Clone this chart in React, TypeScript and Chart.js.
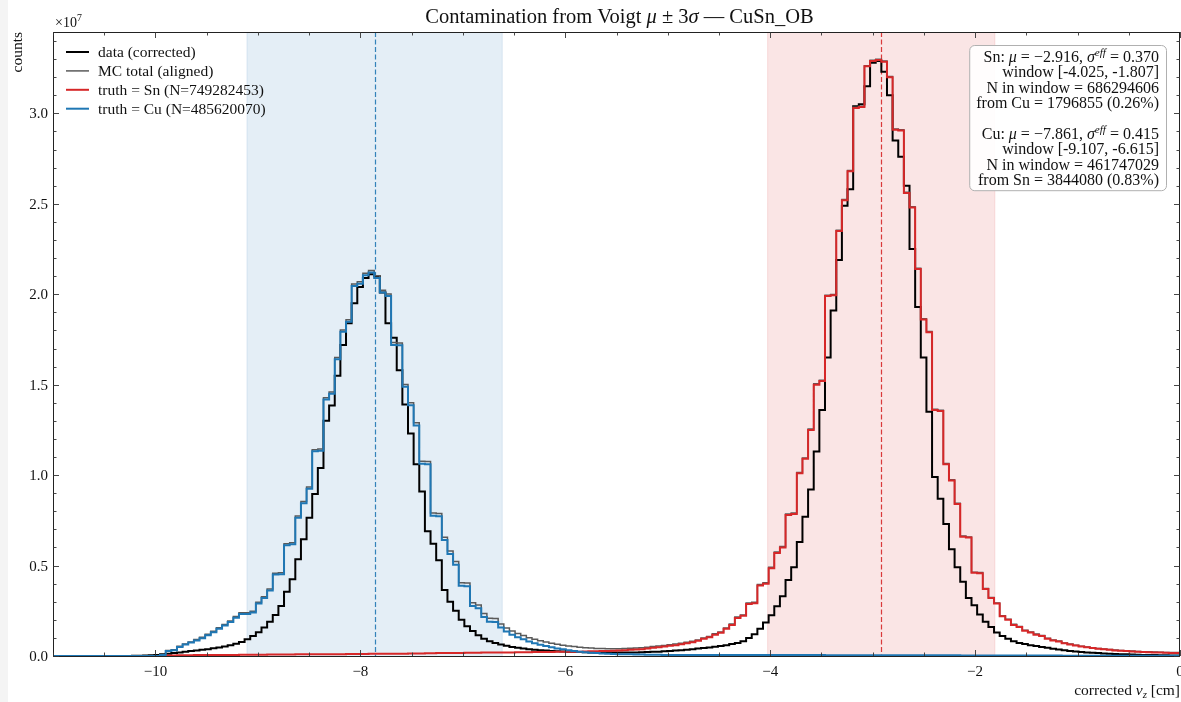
import React, { useEffect, useRef } from "react";
import { Chart, registerables } from "chart.js";

Chart.register(...registerables);

// Histogram binning: 200 bins of 0.055 cm covering [-11, 0]
const BIN_LO = -11;
const BIN_WIDTH = 0.055;
const COUNT_UNIT = 1e4; // stored counts are in units of 10^4
const Y_MULT = 1e7;

// data (corrected)
const DATA_CORRECTED = [
  0, 0, 0, 0, 0, 0, 0, 0, 0, 0,
  0, 0, 0, 0, 0, 1, 2, 3, 4, 6,
  10, 13, 16, 20, 23, 27, 30, 34, 38, 43,
  47, 52, 59, 68, 78, 92, 110, 132, 157, 190,
  226, 276, 355, 425, 535, 645, 765, 895, 1040, 1300,
  1385, 1550, 1720, 1840, 1950, 2040, 2090, 2110, 2100, 2010,
  1840, 1760, 1580, 1390, 1230, 1060, 910, 690, 620, 530,
  365, 300, 250, 200, 165, 138, 115, 96, 82, 72,
  63, 56, 50, 45, 41, 37, 34, 32, 30, 28,
  26, 25, 24, 23, 22, 21, 20, 20, 19, 19,
  19, 19, 19, 20, 20, 21, 22, 23, 24, 26,
  28, 30, 32, 35, 38, 41, 44, 47, 51, 55,
  60, 66, 72, 82, 100, 120, 150, 185, 225, 275,
  330, 420, 490, 630, 770, 920, 1130, 1360, 1650, 1910,
  2190, 2490, 2580, 3040, 3050, 3150, 3280, 3290, 3230, 3100,
  2850, 2760, 2600, 2250, 1930, 1650, 1350, 990, 870, 730,
  590, 490, 410, 320, 280, 230, 190, 160, 130, 110,
  95, 82, 72, 66, 60, 55, 50, 45, 40, 36,
  32, 28, 25, 22, 20, 18, 16, 14, 12, 11,
  10, 9, 8, 7, 6, 5, 5, 4, 4, 3,
];

// truth = Sn
const TRUTH_SN = [
  0, 0, 0, 0, 0, 0, 0, 0, 0, 0,
  0, 0, 0, 0, 0, 0, 0, 0, 0, 0,
  2, 3, 3, 4, 4, 4, 5, 5, 5, 5,
  6, 6, 6, 6, 7, 7, 7, 7, 7, 8,
  8, 8, 8, 8, 9, 9, 9, 9, 10, 10,
  10, 10, 10, 11, 11, 11, 11, 12, 12, 12,
  12, 13, 13, 13, 14, 14, 14, 15, 15, 16,
  16, 16, 17, 17, 18, 18, 18, 19, 19, 19,
  20, 20, 20, 21, 21, 21, 22, 22, 22, 22,
  23, 23, 23, 24, 24, 25, 26, 26, 27, 28,
  29, 30, 32, 34, 36, 38, 42, 45, 48, 52,
  56, 60, 65, 70, 76, 84, 95, 103, 118, 128,
  150, 172, 210, 222, 288, 292, 390, 400, 485, 570,
  600, 780, 785, 1010, 1090, 1250, 1500, 1520, 1990, 1995,
  2350, 2520, 2680, 3030, 3035, 3260, 3290, 3295, 3285, 3200,
  2910, 2905, 2560, 2480, 2140, 1860, 1790, 1360, 1355, 1060,
  970, 840, 660, 655, 460, 458, 370, 320, 290, 220,
  200, 172, 160, 140, 130, 118, 110, 95, 86, 80,
  70, 64, 58, 52, 48, 44, 40, 37, 34, 31,
  29, 27, 25, 23, 22, 21, 20, 19, 18, 17,
];

// truth = Cu
const TRUTH_CU = [
  0, 0, 0, 0, 0, 0, 0, 0, 0, 0,
  0, 0, 0, 0, 0, 0, 0, 0, 0, 0,
  5, 28, 32, 50, 63, 74, 86, 98, 115, 132,
  150, 168, 188, 212, 232, 232, 240, 290, 320, 362,
  450, 452, 612, 618, 765, 845, 925, 1132, 1135, 1418,
  1450, 1640, 1793, 1848, 2046, 2058, 2105, 2120, 2090, 2010,
  1990, 1720, 1718, 1488, 1386, 1275, 1063, 1060, 776, 772,
  641, 564, 505, 388, 386, 277, 264, 216, 190, 188,
  157, 135, 118, 104, 92, 80, 70, 62, 55, 48,
  42, 37, 32, 28, 24, 21, 18, 16, 14, 12,
  11, 10, 9, 9, 8, 8, 7, 7, 7, 6,
  6, 6, 6, 6, 5, 5, 5, 5, 5, 5,
  5, 5, 5, 5, 5, 5, 5, 5, 5, 5,
  5, 5, 5, 5, 5, 5, 5, 5, 4, 4,
  4, 4, 4, 4, 4, 4, 4, 4, 4, 4,
  4, 4, 4, 4, 4, 4, 4, 4, 4, 4,
  4, 4, 3, 3, 3, 3, 3, 3, 3, 3,
  3, 3, 3, 3, 3, 3, 3, 3, 3, 3,
  2, 2, 2, 2, 2, 2, 2, 2, 2, 2,
  2, 2, 2, 2, 2, 2, 2, 2, 2, 2,
];

// MC total is the sum of the two truth components
const MC_TOTAL = TRUTH_SN.map((v, i) => v + TRUTH_CU[i]);

const X_TICKS = [-10, -8, -6, -4, -2, 0];
const Y_TICKS = [0, 0.5, 1.0, 1.5, 2.0, 2.5, 3.0];
const X_RANGE = [-11, 0];
const Y_MAX = 3.45;

// Voigt fit windows (mu ± 3 sigma_eff)
const SN_FIT = [-2.916, 0.37, -4.025, -1.807];
const CU_FIT = [-7.861, 0.415, -9.107, -6.615];

const SERIF = '"Liberation Serif", "DejaVu Serif", serif';
const C_BLUE = "#1f77b4";
const C_RED = "#d62728";
const C_GRAY = "#5a5a5a";
const C_BLACK = "#000000";

type Run = { t: string; it?: boolean; sup?: boolean; sub?: boolean };

function runFont(r: Run, size: number) {
  const s = r.sup || r.sub ? size * 0.7 : size;
  return `${r.it ? "italic " : ""}${s}px ${SERIF}`;
}

function runsWidth(ctx: CanvasRenderingContext2D, runs: Run[], size: number) {
  let w = 0;
  for (const r of runs) {
    ctx.font = runFont(r, size);
    w += ctx.measureText(r.t).width;
  }
  return w;
}

function drawRuns(
  ctx: CanvasRenderingContext2D,
  runs: Run[],
  x: number,
  y: number,
  size: number,
  align: "left" | "center" | "right"
) {
  const w = runsWidth(ctx, runs, size);
  let cx = align === "left" ? x : align === "center" ? x - w / 2 : x - w;
  ctx.textAlign = "left";
  ctx.textBaseline = "alphabetic";
  for (const r of runs) {
    ctx.font = runFont(r, size);
    const dy = r.sup ? -size * 0.4 : r.sub ? size * 0.22 : 0;
    ctx.fillText(r.t, cx, y + dy);
    cx += ctx.measureText(r.t).width;
  }
}

function fmtMinus(v: number) {
  return v < 0 ? "\u2212" + String(-v) : String(v);
}

function stepPoints(counts: number[]) {
  const pts = counts.map((c, i) => ({ x: BIN_LO + i * BIN_WIDTH, y: c * COUNT_UNIT }));
  const end = BIN_LO + counts.length * BIN_WIDTH;
  pts.push({ x: end, y: counts[counts.length - 1] * COUNT_UNIT });
  pts.push({ x: end, y: 0 });
  return pts;
}

const LEGEND_ITEMS = [
  { label: "data (corrected)", color: C_BLACK, width: 2 },
  { label: "MC total (aligned)", color: C_GRAY, width: 1.5 },
  { label: "truth = Sn (N=749282453)", color: C_RED, width: 2 },
  { label: "truth = Cu (N=485620070)", color: C_BLUE, width: 2 },
];

const BOX_LINES: Run[][] = [
  [{ t: "Sn: " }, { t: "μ", it: true }, { t: " = \u22122.916, " }, { t: "σ", it: true }, { t: "eff", it: true, sup: true }, { t: " = 0.370" }],
  [{ t: "window [-4.025, -1.807]" }],
  [{ t: "N in window = 686294606" }],
  [{ t: "from Cu = 1796855 (0.26%)" }],
  [],
  [{ t: "Cu: " }, { t: "μ", it: true }, { t: " = \u22127.861, " }, { t: "σ", it: true }, { t: "eff", it: true, sup: true }, { t: " = 0.415" }],
  [{ t: "window [-9.107, -6.615]" }],
  [{ t: "N in window = 461747029" }],
  [{ t: "from Sn = 3844080 (0.83%)" }],
];

const decor = {
  id: "decor",
  beforeDraw(chart: any) {
    const { ctx, width, height } = chart;
    ctx.save();
    ctx.fillStyle = "#ffffff";
    ctx.fillRect(0, 0, width, height);
    ctx.fillStyle = "#f4f4f4";
    ctx.fillRect(0, 0, 8, height);
    ctx.restore();
  },
  beforeDatasetsDraw(chart: any) {
    const { ctx, chartArea: a } = chart;
    const xs = chart.scales.x;
    ctx.save();
    const bands: [number[], string, string][] = [
      [CU_FIT, "rgba(31,119,180,0.12)", C_BLUE],
      [SN_FIT, "rgba(214,39,40,0.12)", C_RED],
    ];
    for (const [fit, fill] of bands) {
      const x0 = xs.getPixelForValue(fit[2]);
      const x1 = xs.getPixelForValue(fit[3]);
      ctx.fillStyle = fill;
      ctx.fillRect(x0, a.top, x1 - x0, a.bottom - a.top);
      ctx.strokeStyle = fill;
      ctx.lineWidth = 1;
      ctx.beginPath();
      ctx.moveTo(x0, a.top);
      ctx.lineTo(x0, a.bottom);
      ctx.moveTo(x1, a.top);
      ctx.lineTo(x1, a.bottom);
      ctx.stroke();
    }
    for (const [fit, , line] of bands) {
      const xm = Math.round(xs.getPixelForValue(fit[0])) + 0.5;
      ctx.strokeStyle = line;
      ctx.globalAlpha = 0.9;
      ctx.lineWidth = 1.2;
      ctx.setLineDash([5, 2.5]);
      ctx.beginPath();
      ctx.moveTo(xm, a.top);
      ctx.lineTo(xm, a.bottom);
      ctx.stroke();
    }
    ctx.restore();
  },
  afterDraw(chart: any) {
    const { ctx, chartArea: a } = chart;
    const xs = chart.scales.x;
    const ys = chart.scales.y;
    ctx.save();

    // frame
    ctx.strokeStyle = "#222";
    ctx.lineWidth = 1;
    ctx.setLineDash([]);
    ctx.strokeRect(Math.round(a.left) + 0.5, Math.round(a.top) + 0.5, Math.round(a.right - a.left) - 1, Math.round(a.bottom - a.top));

    // ticks (inward, all four sides)
    ctx.strokeStyle = "#333";
    ctx.lineWidth = 0.9;
    ctx.beginPath();
    for (let k = 0; k <= 22; k++) {
      const v = X_RANGE[0] + k * 0.5;
      const major = X_TICKS.includes(v);
      const len = major ? 6 : 3.5;
      const px = Math.round(xs.getPixelForValue(v)) + 0.5;
      ctx.moveTo(px, a.bottom);
      ctx.lineTo(px, a.bottom - len);
      ctx.moveTo(px, a.top);
      ctx.lineTo(px, a.top + len);
    }
    for (let k = 0; k <= 34; k++) {
      const v = k / 10;
      const major = k % 5 === 0;
      const len = major ? 6 : 3.5;
      const py = Math.round(ys.getPixelForValue(v * Y_MULT)) + 0.5;
      ctx.moveTo(a.left, py);
      ctx.lineTo(a.left + len, py);
      ctx.moveTo(a.right, py);
      ctx.lineTo(a.right - len, py);
    }
    ctx.stroke();

    ctx.fillStyle = "#111";
    // tick labels
    for (const v of X_TICKS) {
      drawRuns(ctx, [{ t: fmtMinus(v) }], xs.getPixelForValue(v), 676, 15, "center");
    }
    for (const v of Y_TICKS) {
      drawRuns(ctx, [{ t: v.toFixed(1) }], 48, ys.getPixelForValue(v * Y_MULT) + 5, 15, "right");
    }
    // offset text
    drawRuns(ctx, [{ t: "×10" }, { t: "7", sup: true }], 55, 27, 14, "left");

    // title
    drawRuns(
      ctx,
      [{ t: "Contamination from Voigt " }, { t: "μ", it: true }, { t: " ± 3" }, { t: "σ", it: true }, { t: " — CuSn_OB" }],
      (a.left + a.right) / 2 + 3,
      23,
      20.5,
      "center"
    );

    // axis labels
    drawRuns(ctx, [{ t: "corrected " }, { t: "v", it: true }, { t: "z", it: true, sub: true }, { t: " [cm]" }], 1180, 695, 15.5, "right");
    ctx.save();
    ctx.translate(18, a.top);
    ctx.rotate(-Math.PI / 2);
    ctx.font = `15.5px ${SERIF}`;
    ctx.textAlign = "right";
    ctx.textBaseline = "middle";
    ctx.fillText("counts", 0, 0);
    ctx.restore();

    // legend
    LEGEND_ITEMS.forEach((it, i) => {
      const cy = 52 + i * 18.9;
      ctx.strokeStyle = it.color;
      ctx.lineWidth = it.width;
      ctx.beginPath();
      ctx.moveTo(66, cy);
      ctx.lineTo(89, cy);
      ctx.stroke();
      ctx.fillStyle = "#111";
      drawRuns(ctx, [{ t: it.label }], 98, cy + 5, 15.5, "left");
    });

    // fit summary box
    const size = 16;
    const lineH = 15.4;
    let maxW = 0;
    for (const ln of BOX_LINES) maxW = Math.max(maxW, runsWidth(ctx, ln, size));
    const right = 1166;
    const pad = 7;
    const top = 45;
    const firstBase = top + 17;
    const bottom = firstBase + lineH * (BOX_LINES.length - 1) + 5;
    const left = right - pad * 2 - maxW;
    ctx.beginPath();
    ctx.roundRect(left + 0.5, top + 0.5, right - left, bottom - top, 5);
    ctx.fillStyle = "rgba(255,255,255,0.92)";
    ctx.fill();
    ctx.strokeStyle = "#b0b0b0";
    ctx.lineWidth = 1;
    ctx.stroke();
    ctx.fillStyle = "#111";
    BOX_LINES.forEach((ln, i) => {
      if (ln.length) drawRuns(ctx, ln, right - pad, firstBase + i * lineH, size, "right");
    });

    ctx.restore();
  },
};

export default function App() {
  const ref = useRef<HTMLCanvasElement | null>(null);

  useEffect(() => {
    if (!ref.current) return;
    const common = { pointRadius: 0, fill: false, stepped: "after" as const, tension: 0, borderJoinStyle: "miter" as const };
    const chart = new Chart(ref.current, {
      type: "line",
      data: {
        datasets: [
          { ...common, label: "truth = Cu (N=485620070)", data: stepPoints(TRUTH_CU), borderColor: C_BLUE, borderWidth: 2, order: 0 },
          { ...common, label: "truth = Sn (N=749282453)", data: stepPoints(TRUTH_SN), borderColor: C_RED, borderWidth: 2, order: 1 },
          { ...common, label: "MC total (aligned)", data: stepPoints(MC_TOTAL), borderColor: C_GRAY, borderWidth: 1.5, order: 2 },
          { ...common, label: "data (corrected)", data: stepPoints(DATA_CORRECTED), borderColor: C_BLACK, borderWidth: 2, order: 3 },
        ] as any,
      },
      options: {
        animation: false,
        responsive: false,
        maintainAspectRatio: false,
        events: [],
        layout: { padding: { left: 53, right: 1, top: 32, bottom: 46 } },
        scales: {
          x: { type: "linear", min: X_RANGE[0], max: X_RANGE[1], display: false },
          y: { type: "linear", min: 0, max: Y_MAX * Y_MULT, display: false },
        },
        plugins: { legend: { display: false }, tooltip: { enabled: false }, title: { display: false } },
      },
      plugins: [decor],
    });
    return () => chart.destroy();
  }, []);

  return (
    <div style={{ position: "fixed", left: 0, top: 0, width: 1181, height: 702, background: "#fff" }}>
      <canvas ref={ref} width={1181} height={702} style={{ display: "block" }} />
    </div>
  );
}
